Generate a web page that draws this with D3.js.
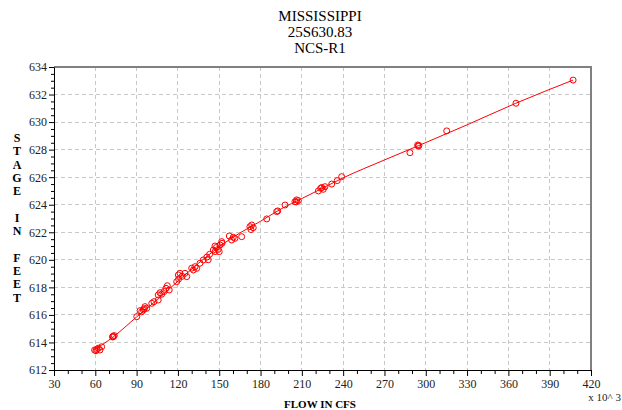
<!DOCTYPE html>
<html>
<head>
<meta charset="utf-8">
<script src="https://cdn.jsdelivr.net/npm/d3@7/dist/d3.min.js"></script>
<style>
    body { margin: 0; background: #fff; }
    svg { display: block; font-family: "Liberation Serif", "DejaVu Serif", serif; }
</style>
</head>
<body>
<svg id="canvas" width="622" height="410"></svg>
<script>
// title lines
var titleLines = ['MISSISSIPPI', '25S630.83', 'NCS-R1'];

// tick labels
var xTicks = [30, 60, 90, 120, 150, 180, 210, 240, 270, 300, 330, 360, 390, 420];
var yTicks = [612, 614, 616, 618, 620, 622, 624, 626, 628, 630, 632, 634];

// rating curve (flow in 1000 cfs, stage in feet)
var curveFlow  = [59, 73, 90, 105, 120, 135, 150, 165, 180, 195, 210, 225, 240, 270, 295, 330, 365, 407];
var curveStage = [613.45, 614.4, 615.85, 617.1, 618.45, 619.75, 620.95, 621.95, 622.8, 623.7,
                  624.45, 625.2, 625.95, 627.25, 628.3, 629.8, 631.35, 633.05];

// measurements
var obsFlow = [59.5, 61, 62.2, 63.4, 64.6, 60.5, 72.5, 73.1, 73.8, 72.8,
               90.1, 92.5, 93.7, 94.9, 96.1, 97.3, 95.5, 101, 102.6, 105.7,
               105.7, 107, 108.2, 111.3, 112.3, 113.7, 110, 119.1, 121.5, 120.5,
               123, 120.3, 125.1, 126.4, 131.2, 133.6, 130, 132.4, 136, 138.4,
               142, 141, 143, 145.7, 146.9, 147, 148, 149.3, 150, 150.6,
               151.8, 152, 157.3, 159, 160.2, 161.4, 166.3, 172.3, 173.6, 174.7,
               173, 184.5, 191.7, 192.5, 197.8, 205, 206.2, 207.4, 206, 222,
               223.7, 224.5, 225.6, 226.8, 231.7, 235.7, 238.9, 288.5, 294.1, 295,
               294.5, 315.2, 365.5, 407];
var obsStage = [613.45, 613.5, 613.58, 613.45, 613.69, 613.4, 614.4, 614.42, 614.5, 614.45,
                615.87, 616.31, 616.23, 616.36, 616.6, 616.48, 616.45, 616.84, 616.96, 617.08,
                617.45, 617.61, 617.5, 617.93, 618.12, 617.81, 617.7, 618.41, 619.02, 618.6,
                618.8, 618.9, 619.02, 618.78, 619.26, 619.38, 619.39, 619.5, 619.75, 619.99,
                620.0, 620.2, 620.4, 620.71, 621.0, 620.6, 620.9, 620.76, 620.59, 621.08,
                621.32, 621.2, 621.73, 621.44, 621.64, 621.56, 621.68, 622.41, 622.53, 622.33,
                622.2, 622.97, 623.5, 623.55, 623.98, 624.22, 624.35, 624.3, 624.2, 625.0,
                625.2, 625.25, 625.12, 625.31, 625.5, 625.75, 626.04, 627.78, 628.34, 628.3,
                628.25, 629.36, 631.37, 633.05];

var yLabel = 'STAGE IN FEET';

var svg = d3.select('#canvas'),
    plotLeft = 54, plotRight = 591, plotTop = 67, plotBottom = 370;

var x = d3.scaleLinear().domain([30, 420]).range([plotLeft, plotRight]),
    y = d3.scaleLinear().domain([612, 634]).range([plotBottom, plotTop]);

// titles
svg.selectAll('.title')
    .data(titleLines)
  .enter().append('text')
    .attr('class', 'title')
    .attr('x', 320)
    .attr('y', function(d, i) { return 21 + i * 16; })
    .attr('text-anchor', 'middle')
    .style('font-size', '15px')
    .text(function(d) { return d; });

// grid
var grid = svg.append('g')
    .attr('stroke', '#c8c8c8')
    .attr('stroke-dasharray', '4,3')
    .attr('shape-rendering', 'crispEdges');
grid.selectAll('.vgrid')
    .data(xTicks.slice(1, -1))
  .enter().append('line')
    .attr('x1', x).attr('x2', x)
    .attr('y1', plotTop).attr('y2', plotBottom);
grid.selectAll('.hgrid')
    .data(yTicks.slice(1, -1))
  .enter().append('line')
    .attr('y1', y).attr('y2', y)
    .attr('x1', plotLeft).attr('x2', plotRight);

// frame: top and right grey
svg.append('path')
    .attr('d', 'M' + plotLeft + ',' + plotTop + 'H' + plotRight + 'V' + plotBottom)
    .attr('fill', 'none')
    .attr('stroke', '#808080')
    .attr('stroke-width', 2);

// minor ticks
var xMinor = d3.range(30, 421, 10).filter(function(v) { return (v - 30) % 30 !== 0; }),
    yMinor = d3.range(612, 634.01, 0.5).filter(function(v) { return v % 2 !== 0; });

svg.append('g')
    .attr('transform', 'translate(0,' + plotBottom + ')')
    .call(d3.axisBottom(x).tickValues(xMinor).tickSize(4).tickFormat(''))
    .call(function(g) { g.select('.domain').remove(); });
svg.append('g')
    .attr('transform', 'translate(' + plotLeft + ',0)')
    .call(d3.axisLeft(y).tickValues(yMinor).tickSize(3).tickFormat(''))
    .call(function(g) { g.select('.domain').remove(); });

// major axes
var xAxis = svg.append('g')
    .attr('transform', 'translate(0,' + plotBottom + ')')
    .call(d3.axisBottom(x).tickValues(xTicks).tickSize(6).tickSizeOuter(0).tickPadding(3));
var yAxis = svg.append('g')
    .attr('transform', 'translate(' + plotLeft + ',0)')
    .call(d3.axisLeft(y).tickValues(yTicks).tickSize(5).tickSizeOuter(0).tickPadding(2));

[xAxis, yAxis].forEach(function(g) {
    g.selectAll('text')
        .style('font-family', '"Liberation Serif", serif')
        .style('font-size', '12px')
        .attr('fill', '#222');
    g.select('.domain').attr('stroke', '#000');
});

// axis titles
svg.append('text')
    .attr('x', 320)
    .attr('y', 408)
    .attr('text-anchor', 'middle')
    .style('font-size', '11px')
    .style('font-weight', 'bold')
    .text('FLOW IN CFS');

svg.append('text')
    .attr('x', 621)
    .attr('y', 401)
    .attr('text-anchor', 'end')
    .style('font-size', '11px')
    .attr('fill', '#222')
    .text('x 10^ 3');

svg.selectAll('.ylab')
    .data(yLabel.split(''))
  .enter().append('text')
    .attr('class', 'ylab')
    .attr('x', 17)
    .attr('y', function(d, i) { return 142 + i * 13.3; })
    .attr('text-anchor', 'middle')
    .style('font-size', '12px')
    .style('font-weight', 'bold')
    .text(function(d) { return d; });

// rating curve
var line = d3.line()
    .x(function(d) { return x(d[0]); })
    .y(function(d) { return y(d[1]); })
    .curve(d3.curveMonotoneX);

svg.append('path')
    .datum(d3.zip(curveFlow, curveStage))
    .attr('d', line)
    .attr('fill', 'none')
    .attr('stroke', '#ff0000')
    .attr('stroke-width', 1);

// measurements
svg.append('g').selectAll('circle')
    .data(d3.zip(obsFlow, obsStage))
  .enter().append('circle')
    .attr('cx', function(d) { return x(d[0]); })
    .attr('cy', function(d) { return y(d[1]); })
    .attr('r', 3)
    .attr('fill', 'none')
    .attr('stroke', '#ff0000')
    .attr('stroke-width', 1);
</script>
</body>
</html>
